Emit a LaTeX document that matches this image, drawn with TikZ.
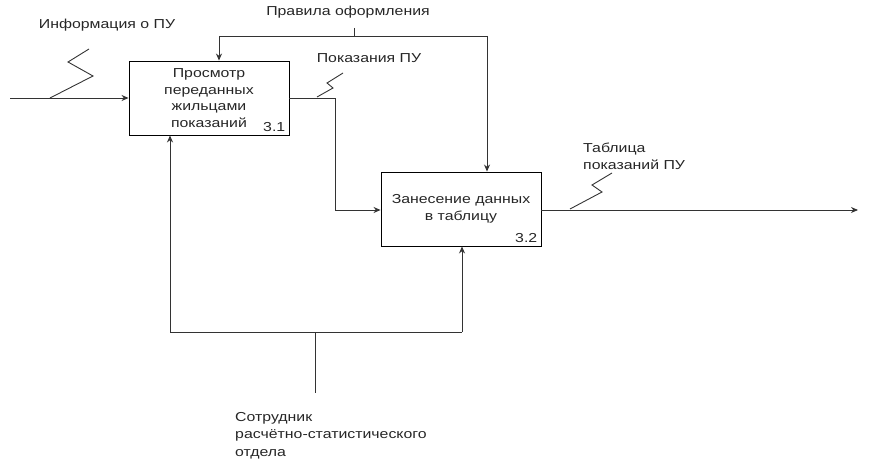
\documentclass[tikz,border=0pt]{standalone}
\usepackage{fontspec}
\setmainfont[FakeStretch=1.22]{Liberation Sans}
\usetikzlibrary{arrows.meta,calc}
\begin{document}
\begin{tikzpicture}[x=1pt,y=-1pt,
  every node/.style={font=\fontsize{13}{16.7}\selectfont, text=black!85},
  fbox/.style={draw, line width=0.9pt, minimum width=160pt, minimum height=74pt, align=center, inner sep=0pt},
  conn/.style={draw=black!80, line width=0.9pt},
  arr/.style={conn, -{Stealth[length=7pt,width=6pt]}},
  lbl/.style={inner sep=0pt, align=left}]
\useasboundingbox (0,0) rectangle (871,460);
\node[fbox] (b1) at (209,98) {Просмотр\\переданных\\жильцами\\показаний};
\node[fbox] (b2) at (461,209) {Занесение данных\\в таблицу};
\node[lbl, anchor=south east] (n1) at ($(b1.south east)+(-4,-4)$) {3.1};
\node[lbl, anchor=south east] (n2) at ($(b2.south east)+(-4,-4)$) {3.2};

% input
\coordinate (inS) at (10,98);
\draw[arr] (inS) -- (b1.west);
\draw[conn] (50,98) -- (93,76) -- (68,62) -- (89,49);
\node[lbl] (tin) at (107,25) {Информация о ПУ};

% control
\node[lbl] (tctl) at (348,12) {Правила оформления};
\coordinate (cj) at (354,36);
\draw[conn] (354,28) -- (cj);
\coordinate (cl) at (219,36);
\coordinate (cr) at (487,36);
\draw[conn] (cl) -- (cr);
\draw[arr] (cl) -- (b1.north -| cl);
\draw[arr] (cr) -- (b2.north -| cr);

% b1 -> b2
\coordinate (k1) at (335,98);
\coordinate (k2) at (335,210);
\draw[arr] (b1.east |- k1) -- (k1) -- (k2) -- (b2.west |- k2);
\draw[conn] (317,97) -- (333,88) -- (327,83) -- (343,73);
\node[lbl] (tpu) at (369,58) {Показания ПУ};

% output
\coordinate (outE) at (858,210);
\draw[arr] (b2.east |- outE) -- (outE);
\draw[conn] (570,209) -- (602,192) -- (592,185) -- (612,173);
\node[lbl, anchor=north west, font=\fontsize{13}{17}\selectfont] (tout) at (583,143) {Таблица\\показаний ПУ};

% mechanism
\coordinate (m1) at (170,332);
\coordinate (m2) at (462,332);
\draw[arr] (m1) -- (b1.south -| m1);
\draw[arr] (m2) -- (b2.south -| m2);
\draw[conn] (m1) -- (m2);
\coordinate (mj) at (315,332);
\coordinate (mb) at (315,393);
\draw[conn] (mj) -- (mb);
\node[lbl, anchor=north west, font=\fontsize{13}{17.5}\selectfont] (tm) at (235,412) {Сотрудник\\расчётно-статистического\\отдела};
\end{tikzpicture}
\end{document}
